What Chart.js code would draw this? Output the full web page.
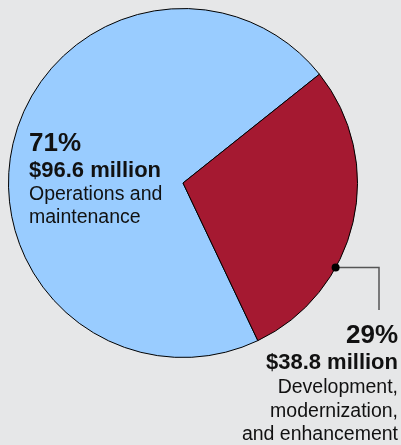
<!DOCTYPE html>
<html>
<head>
<meta charset="utf-8">
<script src="https://cdn.jsdelivr.net/npm/chart.js@4/dist/chart.umd.min.js"></script>
<style>
  html, body { margin: 0; padding: 0; background: #e6e7e8; }
  canvas { display: block; }
</style>
</head>
<body>
<canvas id="spend" width="401" height="445"></canvas>
<script>
// IT spending split, millions of dollars
const categories = ['Operations and maintenance', 'Development, modernization, and enhancement'];
const amounts = [96.6, 38.8];
const shares = ['71%', '29%'];
const sliceColors = ['#99ccff', '#a51931'];

const fmt = v => '$' + v.toFixed(1) + ' million';

// text blocks and the leader for the smaller slice
const labelPlugin = {
  id: 'sliceLabels',
  afterDraw(chart) {
    const ctx = chart.ctx;
    const font = 'Liberation Sans, Arial, sans-serif';
    ctx.save();
    ctx.fillStyle = '#111';

    // left block
    ctx.textAlign = 'left';
    ctx.font = 'bold 26px ' + font;
    ctx.fillText(shares[0], 29, 151);
    ctx.font = 'bold 22px ' + font;
    ctx.fillText(fmt(amounts[0]), 29, 177);
    ctx.font = '19.5px ' + font;
    ctx.fillText('Operations and', 29, 200);
    ctx.fillText('maintenance', 29, 223);

    // right block
    ctx.textAlign = 'right';
    ctx.font = 'bold 26px ' + font;
    ctx.fillText(shares[1], 398, 343);
    ctx.font = 'bold 22px ' + font;
    ctx.fillText(fmt(amounts[1]), 398, 369);
    ctx.font = '19.5px ' + font;
    ctx.fillText('Development,', 398, 393);
    ctx.fillText('modernization,', 398, 417);
    ctx.fillText('and enhancement', 398, 440);

    // leader from a point on the red arc
    const arc = chart.getDatasetMeta(0).data[1];
    const a = arc.startAngle + (arc.endAngle - arc.startAngle) * 0.655;
    const px = arc.x + Math.cos(a) * arc.outerRadius;
    const py = arc.y + Math.sin(a) * arc.outerRadius;
    ctx.strokeStyle = '#555';
    ctx.lineWidth = 1.5;
    ctx.beginPath();
    ctx.moveTo(px, py);
    ctx.lineTo(379, py);
    ctx.lineTo(379, 310);
    ctx.stroke();
    ctx.fillStyle = '#000';
    ctx.beginPath();
    ctx.arc(px, py, 4, 0, Math.PI * 2);
    ctx.fill();
    ctx.restore();
  }
};

new Chart(document.getElementById('spend').getContext('2d'), {
  type: 'pie',
  data: {
    labels: categories,
    datasets: [{
      data: amounts,
      backgroundColor: sliceColors,
      borderColor: '#000',
      borderWidth: 1
    }]
  },
  options: {
    responsive: false,
    animation: false,
    rotation: 154.6,
    layout: { padding: { left: 8, top: 8, right: 43, bottom: 87 } },
    plugins: {
      legend: { display: false },
      tooltip: { enabled: false }
    }
  },
  plugins: [labelPlugin]
});
</script>
</body>
</html>
